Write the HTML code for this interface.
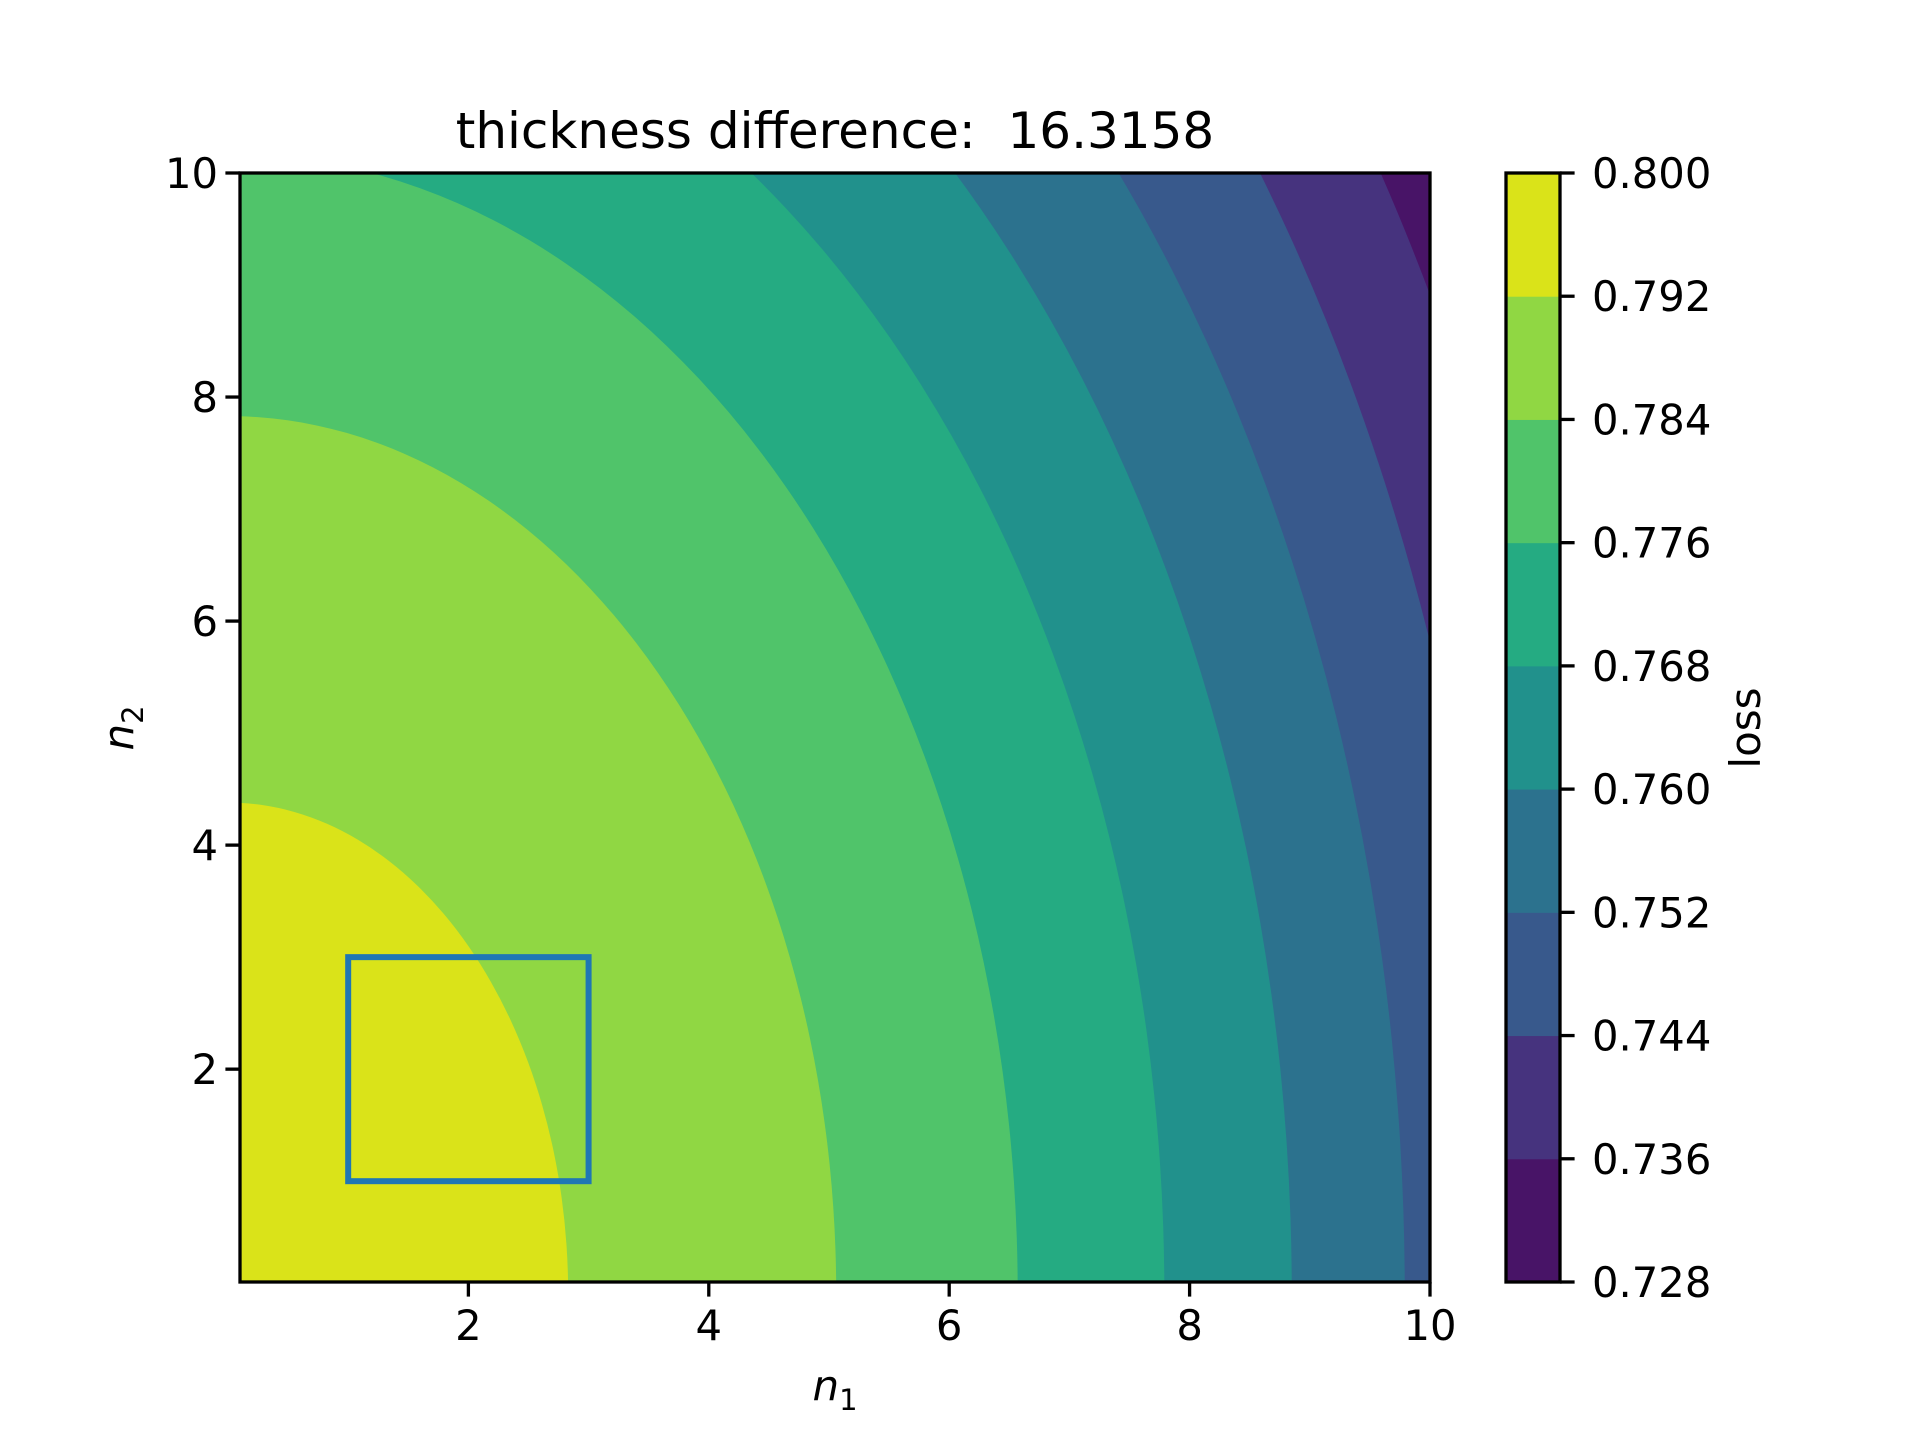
<!DOCTYPE html>
<html><head><meta charset="utf-8"><style>
html,body{margin:0;padding:0;background:#fff;width:1920px;height:1440px;overflow:hidden;}
svg{display:block;font-family:"DejaVu Sans","Liberation Sans",sans-serif;}
</style></head><body>
<svg id="chart" width="1920" height="1440" viewBox="0 0 1920 1440">
<defs><clipPath id="plotclip"><rect x="240" y="173" width="1190" height="1109"/></clipPath></defs>
<g id="bands" clip-path="url(#plotclip)"></g>
<rect id="box" fill="none" stroke="#1f77b4" stroke-width="6"/>
<rect x="240" y="173" width="1190" height="1109" fill="none" stroke="#000" stroke-width="3.3"/>
<g id="xticks"></g>
<g id="yticks"></g>
<g id="cbar"></g>
<text x="835" y="148" font-size="50" text-anchor="middle">thickness difference:&#160; 16.3158</text>
<text x="835" y="1400" font-size="42" text-anchor="middle" font-style="italic">n<tspan font-size="29" dy="10" font-style="normal">1</tspan></text>
<text transform="translate(133,728) rotate(-90)" font-size="42" text-anchor="middle" font-style="italic">n<tspan font-size="29" dy="10" font-style="normal">2</tspan></text>
<text transform="translate(1760,728) rotate(-90)" font-size="42" text-anchor="middle">loss</text>
</svg>
<script>
const levels = [0.728,0.736,0.744,0.752,0.760,0.768,0.776,0.784,0.792,0.800];
const bandColors = ["#481467","#46337e","#38598c","#2c728e","#21918c","#25ab82","#50c46a","#90d743","#dae319"];
// ellipse semi-axes (data units) of each level's boundary, levels[1..8]
const boundaryRx = [11.45,10.65,9.79,8.85,7.79,6.57,5.06,2.83];
const boundaryRy = [18.3,16.9,15.3,13.7,12.06,10.17,7.83,4.38];
const xTicks = [2,4,6,8,10];
const yTicks = [2,4,6,8,10];
const boxCorners = [1,1,3,3];
const NS="http://www.w3.org/2000/svg";
const X0=240,X1=1430,Y0=1282,Y1=173,DMIN=0.1,DMAX=10;
const sx=v=>X0+(v-DMIN)/(DMAX-DMIN)*(X1-X0);
const sy=v=>Y0-(v-DMIN)/(DMAX-DMIN)*(Y0-Y1);
const kx=(X1-X0)/(DMAX-DMIN), ky=(Y0-Y1)/(DMAX-DMIN);
function mk(t,a,p){const e=document.createElementNS(NS,t);for(const k in a)e.setAttribute(k,a[k]);p.appendChild(e);return e;}
const bands=document.getElementById('bands');
let r=mk('rect',{x:X0,y:Y1,width:X1-X0,height:Y0-Y1,fill:bandColors[0]},bands);


for(let i=0;i<boundaryRx.length;i++){
  const e=mk('ellipse',{cx:sx(0),cy:sy(0),rx:boundaryRx[i]*kx,ry:boundaryRy[i]*ky,fill:bandColors[i+1]},bands);
  
  
}
const box=document.getElementById('box');
box.setAttribute('x',sx(boxCorners[0]));box.setAttribute('y',sy(boxCorners[3]));
box.setAttribute('width',sx(boxCorners[2])-sx(boxCorners[0]));box.setAttribute('height',sy(boxCorners[1])-sy(boxCorners[3]));
const xg=document.getElementById('xticks');
xTicks.forEach(t=>{
  const l=mk('line',{x1:sx(t),x2:sx(t),y1:Y0,y2:Y0+14.6,stroke:'#000','stroke-width':3.3},xg);
  
  
  const tx=mk('text',{x:sx(t),y:Y0+58,'font-size':41.7,'text-anchor':'middle'},xg);tx.textContent=t;
  
  
});
const yg=document.getElementById('yticks');
yTicks.forEach(t=>{
  const l=mk('line',{x1:X0-14.6,x2:X0,y1:sy(t),y2:sy(t),stroke:'#000','stroke-width':3.3},yg);
  
  
  const tx=mk('text',{x:X0-22,y:sy(t)+15,'font-size':41.7,'text-anchor':'end'},yg);tx.textContent=t;
  
  
});
const cb=document.getElementById('cbar');
const CX0=1506,CX1=1560;
const cy=v=>Y0-(v-levels[0])/(levels[levels.length-1]-levels[0])*(Y0-Y1);
for(let i=0;i<bandColors.length;i++){
  const s=mk('rect',{x:CX0,y:cy(levels[i+1]),width:CX1-CX0,height:cy(levels[i])-cy(levels[i+1])+0.5,fill:bandColors[i]},cb);
  
  
}
const fr=mk('rect',{x:CX0,y:Y1,width:CX1-CX0,height:Y0-Y1,fill:'none',stroke:'#000','stroke-width':3.3},cb);


levels.forEach(v=>{
  const l=mk('line',{x1:CX1,x2:CX1+14.6,y1:cy(v),y2:cy(v),stroke:'#000','stroke-width':3.3},cb);
  
  
  const tx=mk('text',{x:CX1+32,y:cy(v)+15,'font-size':41.7},cb);tx.textContent=v.toFixed(3);
  
  
});
</script>
</body></html>
